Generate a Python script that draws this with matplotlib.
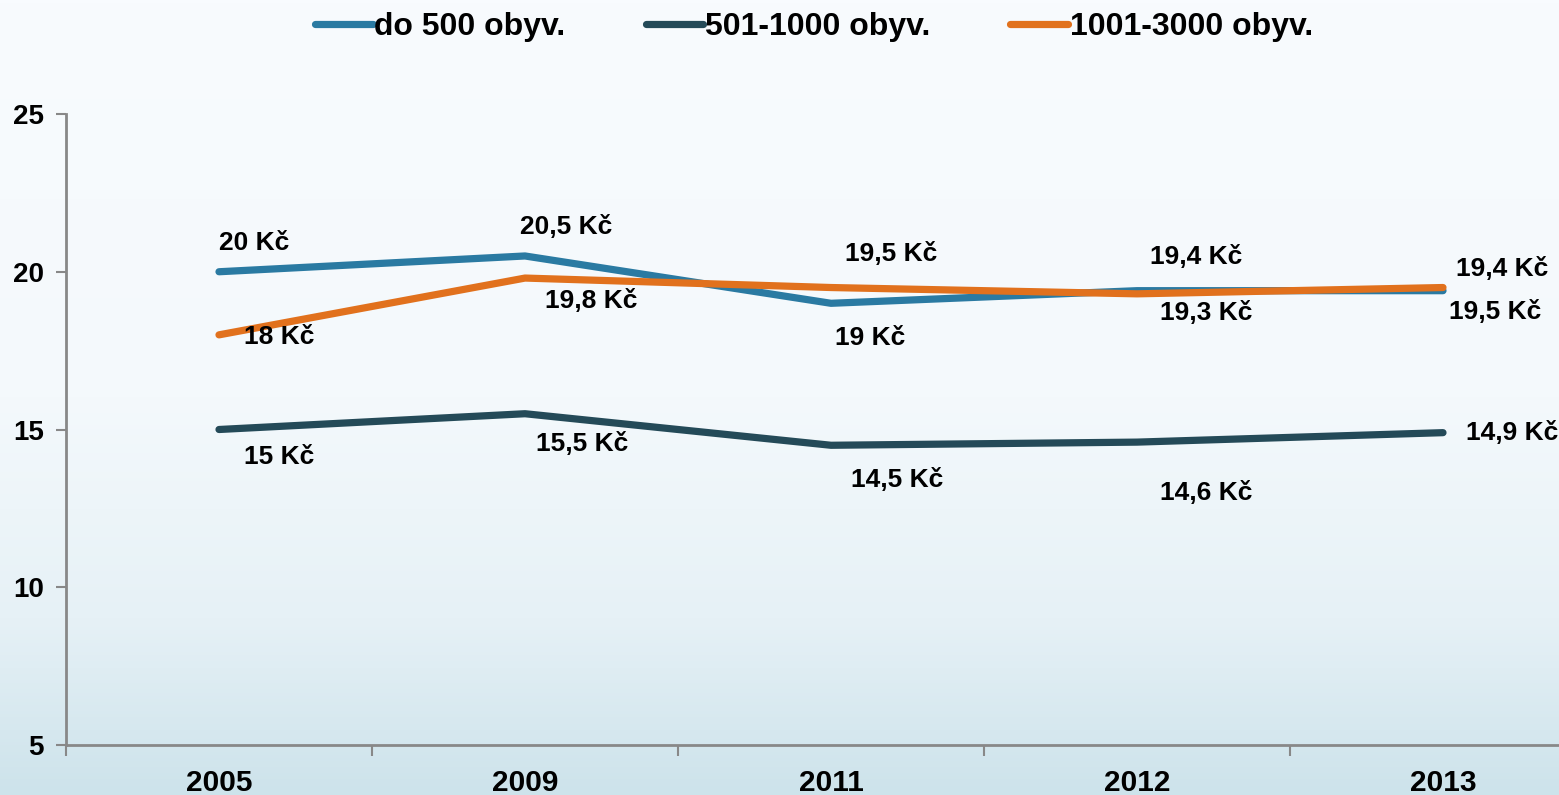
import numpy as np
import matplotlib
matplotlib.use("Agg")
import matplotlib.pyplot as plt
from matplotlib.colors import LinearSegmentedColormap

# ---- data ----
years = ["2005", "2009", "2011", "2012", "2013"]
series_names = ["do 500 obyv.", "501-1000 obyv.", "1001-3000 obyv."]
do500 = [20.0, 20.5, 19.0, 19.4, 19.4]
s501_1000 = [15.0, 15.5, 14.5, 14.6, 14.9]
s1001_3000 = [18.0, 19.8, 19.5, 19.3, 19.5]
labels_do500 = ["20 Kč", "20,5 Kč", "19 Kč", "19,4 Kč", "19,4 Kč"]
labels_501 = ["15 Kč", "15,5 Kč", "14,5 Kč", "14,6 Kč", "14,9 Kč"]
labels_1001 = ["18 Kč", "19,8 Kč", "19,5 Kč", "19,3 Kč", "19,5 Kč"]
yticks = [5, 10, 15, 20, 25]

# ---- style ----
colors = ["#2a7aa2", "#244a58", "#e1711d"]
off_do500 = [(35, 29), (41, 29), (39, -35), (59, 34), (59, 22)]
off_501 = [(60, -28), (57, -30), (66, -35), (69, -51), (69, 0)]
off_1001 = [(60, -2), (66, -23), (60, 34), (69, -19), (52, -24)]

regular = ["Liberation Sans", "DejaVu Sans"]

W, H = 1559, 795
fig = plt.figure(figsize=(W / 100, H / 100), dpi=100)

# background gradient
bg = fig.add_axes([0, 0, 1, 1], zorder=-10)
bg.set_axis_off()
cmap = LinearSegmentedColormap.from_list(
    "bg", [(0.0, "#f8fbfe"), (0.5, "#f4f9fc"), (0.78, "#e6f1f6"), (1.0, "#cde3eb")])
grad = np.linspace(0, 1, 256).reshape(-1, 1)
bg.imshow(grad, aspect="auto", cmap=cmap, extent=[0, 1, 0, 1], origin="upper")

ax = fig.add_axes([66 / W, 1 - 745 / H, (1596 - 66) / W, (745 - 114) / H])
ax.patch.set_alpha(0)
x = np.arange(len(years))

all_series = [do500, s501_1000, s1001_3000]
all_labels = [labels_do500, labels_501, labels_1001]
all_offs = [off_do500, off_501, off_1001]
for i in range(3):
    ax.plot(x, all_series[i], color=colors[i], lw=5.2, solid_capstyle="round",
            solid_joinstyle="round", label=series_names[i], zorder=3)
for i in range(3):
    for xi, v, lab, (dx, dy) in zip(x, all_series[i], all_labels[i], all_offs[i]):
        ax.annotate(lab, (xi, v), xytext=(dx, dy), textcoords="offset pixels",
                    ha="center", va="center", fontsize=19, fontweight="bold",
                    family=regular, color="black", zorder=5)

ax.set_xlim(-0.5, len(years) - 0.5)
ax.set_ylim(5, 25)
ax.set_yticks(yticks)
ax.set_yticklabels([str(t) for t in yticks], fontsize=20, fontweight="bold", family=regular)
ax.set_xticks(x)
ax.set_xticklabels(years, fontsize=21.5, fontweight="bold", family=regular)
ax.set_xticks(np.arange(-0.5, len(years), 1.0), minor=True)
ax.tick_params(axis="x", which="major", length=0, pad=17)
ax.tick_params(axis="x", which="minor", length=8, width=1.5, color="#888888", direction="out")
ax.tick_params(axis="y", which="major", length=7, width=1.5, color="#888888", direction="out", pad=9)
for side in ["top", "right"]:
    ax.spines[side].set_visible(False)
for side in ["left", "bottom"]:
    ax.spines[side].set_color("#888888")
    ax.spines[side].set_linewidth(2)

fig.legend(loc="center", bbox_to_anchor=(814 / W, 1 - 27 / H), ncol=3, frameon=False,
           prop={"family": regular, "weight": "bold", "size": 23},
           handlelength=1.8, handletextpad=0.06, columnspacing=2.5,
           borderaxespad=0, borderpad=0)

fig.savefig("out.png", dpi=100)
